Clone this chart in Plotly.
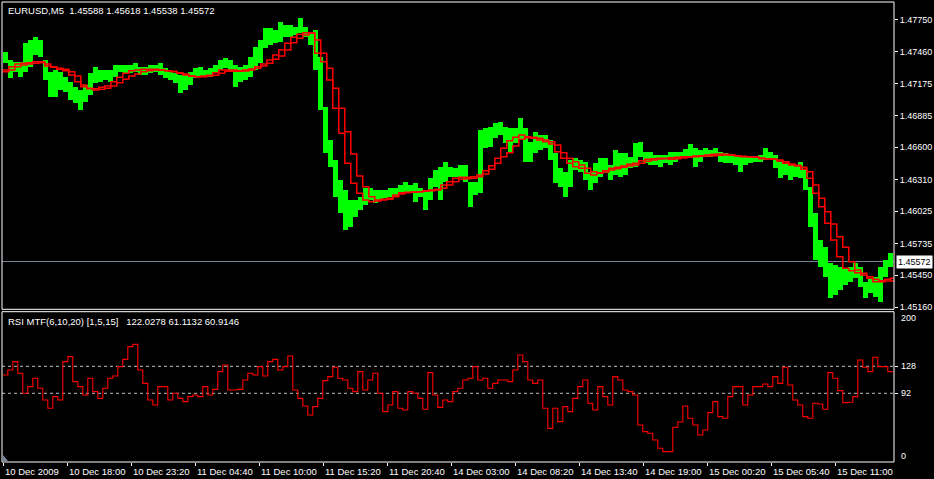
import numpy as np
import plotly.graph_objects as go

# ---------------- data ----------------
tick_labels = ["10 Dec 2009", "10 Dec 18:00", "10 Dec 23:20", "11 Dec 04:40", "11 Dec 10:00",
               "11 Dec 15:20", "11 Dec 20:40", "14 Dec 03:00", "14 Dec 08:20", "14 Dec 13:40",
               "14 Dec 19:00", "15 Dec 00:20", "15 Dec 05:40", "15 Dec 11:00"]

# EURUSD M5, high/low per group of 5 bars
highs = [1.47458, 1.47386, 1.47368, 1.47368, 1.47539, 1.47566, 1.47593, 1.47566, 1.47386, 1.47278,
         1.47296, 1.47278, 1.47233, 1.47188, 1.47143, 1.47116, 1.47161, 1.47269, 1.47323, 1.47296,
         1.47296, 1.47296, 1.47341, 1.47341, 1.47341, 1.47341, 1.47359, 1.47323, 1.47323, 1.47341,
         1.47341, 1.47359, 1.47314, 1.47278, 1.47269, 1.47251, 1.47251, 1.47278, 1.47314, 1.47323,
         1.47296, 1.47314, 1.47341, 1.47386, 1.47404, 1.47386, 1.47341, 1.47323, 1.47341, 1.47413,
         1.47503, 1.47566, 1.47674, 1.47674, 1.47656, 1.47728, 1.47701, 1.47701, 1.47683, 1.47764,
         1.47683, 1.47638, 1.47656, 1.47413, 1.46963, 1.46666, 1.46486, 1.46306, 1.46216, 1.46126,
         1.46126, 1.46153, 1.46234, 1.46234, 1.46216, 1.46216, 1.46216, 1.46234, 1.46234, 1.46261,
         1.46288, 1.46261, 1.46279, 1.46234, 1.46216, 1.46324, 1.46396, 1.46423, 1.46468, 1.46423,
         1.46414, 1.46441, 1.46441, 1.46288, 1.46288, 1.46756, 1.46774, 1.46783, 1.46819, 1.46828,
         1.46783, 1.46774, 1.46774, 1.46864, 1.46774, 1.46648, 1.46738, 1.46711, 1.46711, 1.46666,
         1.46549, 1.46414, 1.46378, 1.46486, 1.46504, 1.46486, 1.46468, 1.46378, 1.46459, 1.46504,
         1.46504, 1.46441, 1.46576, 1.46549, 1.46549, 1.46513, 1.46639, 1.46648, 1.46558, 1.46558,
         1.46531, 1.46531, 1.46531, 1.46558, 1.46558, 1.46558, 1.46585, 1.46630, 1.46594, 1.46576,
         1.46594, 1.46576, 1.46594, 1.46558, 1.46549, 1.46540, 1.46531, 1.46513, 1.46513, 1.46513,
         1.46513, 1.46531, 1.46594, 1.46558, 1.46531, 1.46468, 1.46459, 1.46441, 1.46441, 1.46468,
         1.46396, 1.46243, 1.46009, 1.45766, 1.45703, 1.45559, 1.45541, 1.45523, 1.45514, 1.45523,
         1.45559, 1.45523, 1.45388, 1.45424, 1.45433, 1.45523, 1.45586, 1.45649]
lows = [1.47359, 1.47224, 1.47278, 1.47233, 1.47278, 1.47323, 1.47431, 1.47413, 1.47206, 1.47053,
        1.47053, 1.47116, 1.47098, 1.47026, 1.46999, 1.46936, 1.47008, 1.47071, 1.47179, 1.47188,
        1.47206, 1.47188, 1.47233, 1.47278, 1.47269, 1.47269, 1.47278, 1.47251, 1.47251, 1.47269,
        1.47278, 1.47251, 1.47224, 1.47206, 1.47179, 1.47089, 1.47116, 1.47161, 1.47224, 1.47233,
        1.47233, 1.47233, 1.47269, 1.47296, 1.47314, 1.47278, 1.47143, 1.47188, 1.47206, 1.47233,
        1.47296, 1.47359, 1.47494, 1.47521, 1.47539, 1.47548, 1.47593, 1.47593, 1.47611, 1.47629,
        1.47593, 1.47521, 1.47296, 1.46936, 1.46549, 1.46423, 1.46153, 1.46009, 1.45856, 1.45883,
        1.45973, 1.46036, 1.46081, 1.46126, 1.46099, 1.46126, 1.46144, 1.46153, 1.46153, 1.46189,
        1.46198, 1.46189, 1.46108, 1.46153, 1.46036, 1.46126, 1.46243, 1.46126, 1.46288, 1.46333,
        1.46333, 1.46333, 1.46288, 1.46063, 1.46171, 1.46189, 1.46594, 1.46603, 1.46684, 1.46711,
        1.46639, 1.46558, 1.46639, 1.46666, 1.46468, 1.46468, 1.46549, 1.46576, 1.46594, 1.46486,
        1.46279, 1.46243, 1.46153, 1.46243, 1.46396, 1.46378, 1.46306, 1.46216, 1.46279, 1.46333,
        1.46369, 1.46306, 1.46351, 1.46333, 1.46351, 1.46414, 1.46423, 1.46513, 1.46459, 1.46441,
        1.46441, 1.46423, 1.46459, 1.46441, 1.46468, 1.46504, 1.46513, 1.46513, 1.46423, 1.46468,
        1.46513, 1.46513, 1.46522, 1.46468, 1.46459, 1.46459, 1.46441, 1.46378, 1.46441, 1.46459,
        1.46468, 1.46468, 1.46486, 1.46504, 1.46414, 1.46324, 1.46351, 1.46306, 1.46333, 1.46324,
        1.46216, 1.45883, 1.45586, 1.45523, 1.45433, 1.45244, 1.45271, 1.45316, 1.45361, 1.45388,
        1.45424, 1.45343, 1.45244, 1.45289, 1.45253, 1.45208, 1.45433, 1.45523]

# two multi-timeframe moving averages, one value per 30-minute step
ma_fast = [1.47296, 1.47326, 1.47350, 1.47356, 1.47362, 1.47371, 1.47371, 1.47332, 1.47320, 1.47302,
           1.47290, 1.47251, 1.47191, 1.47146, 1.47128, 1.47128, 1.47140, 1.47152, 1.47191, 1.47230,
           1.47266, 1.47290, 1.47296, 1.47302, 1.47302, 1.47302, 1.47296, 1.47290, 1.47281, 1.47266,
           1.47251, 1.47242, 1.47236, 1.47242, 1.47248, 1.47272, 1.47296,
           1.47296, 1.47296, 1.47290, 1.47296, 1.47305, 1.47326, 1.47350, 1.47386, 1.47431, 1.47476,
           1.47536, 1.47590, 1.47617, 1.47632, 1.47632, 1.47446, 1.47371, 1.47206, 1.46951, 1.46726,
           1.46456, 1.46276, 1.46186, 1.46126, 1.46111, 1.46117, 1.46132, 1.46141, 1.46171, 1.46192,
           1.46195, 1.46195, 1.46201, 1.46210, 1.46216, 1.46222, 1.46261,
           1.46291, 1.46321, 1.46330, 1.46330, 1.46336, 1.46351, 1.46390, 1.46435, 1.46501, 1.46591,
           1.46660, 1.46690, 1.46711, 1.46696, 1.46681, 1.46666, 1.46651, 1.46630, 1.46561, 1.46501,
           1.46456, 1.46426, 1.46411, 1.46366, 1.46351, 1.46366, 1.46390, 1.46411, 1.46420, 1.46432,
           1.46447, 1.46456, 1.46480, 1.46492, 1.46498, 1.46501, 1.46501,
           1.46507, 1.46510, 1.46516, 1.46516, 1.46522, 1.46525, 1.46531, 1.46537, 1.46540, 1.46537,
           1.46531, 1.46522, 1.46516, 1.46516, 1.46510, 1.46498, 1.46495, 1.46492, 1.46477, 1.46456,
           1.46441, 1.46432, 1.46402, 1.46321, 1.46186, 1.46066, 1.45916, 1.45766, 1.45616, 1.45511,
           1.45490, 1.45472, 1.45451, 1.45421, 1.45391, 1.45391, 1.45412, 1.45421]
ma_slow = [1.47281, 1.47296, 1.47326, 1.47341, 1.47350, 1.47356, 1.47362, 1.47350, 1.47326, 1.47311,
           1.47302, 1.47281, 1.47242, 1.47161, 1.47131, 1.47116, 1.47122, 1.47131, 1.47152, 1.47182,
           1.47212, 1.47242, 1.47260, 1.47281, 1.47290, 1.47296, 1.47296, 1.47290, 1.47284, 1.47272,
           1.47260, 1.47242, 1.47236, 1.47236, 1.47242, 1.47248, 1.47266,
           1.47284, 1.47284, 1.47284, 1.47287, 1.47296, 1.47311, 1.47332, 1.47356, 1.47392, 1.47422,
           1.47476, 1.47542, 1.47581, 1.47611, 1.47626, 1.47566, 1.47446, 1.47311, 1.47131, 1.46951,
           1.46741, 1.46540, 1.46342, 1.46246, 1.46156, 1.46126, 1.46126, 1.46132, 1.46156, 1.46180,
           1.46192, 1.46198, 1.46201, 1.46204, 1.46210, 1.46216, 1.46231,
           1.46261, 1.46291, 1.46312, 1.46318, 1.46321, 1.46336, 1.46360, 1.46402, 1.46456, 1.46516,
           1.46552, 1.46612, 1.46672, 1.46687, 1.46690, 1.46681, 1.46666, 1.46651, 1.46621, 1.46552,
           1.46501, 1.46471, 1.46441, 1.46411, 1.46381, 1.46372, 1.46378, 1.46396, 1.46408, 1.46420,
           1.46432, 1.46441, 1.46456, 1.46474, 1.46486, 1.46495, 1.46498,
           1.46492, 1.46498, 1.46504, 1.46510, 1.46516, 1.46519, 1.46522, 1.46525, 1.46528, 1.46531,
           1.46528, 1.46525, 1.46519, 1.46516, 1.46513, 1.46504, 1.46498, 1.46495, 1.46486, 1.46471,
           1.46450, 1.46438, 1.46420, 1.46381, 1.46261, 1.46141, 1.46021, 1.45910, 1.45796, 1.45700,
           1.45571, 1.45496, 1.45466, 1.45436, 1.45412, 1.45400, 1.45397, 1.45397]

# RSI MTF (0..200 scale), one value per group of 5 bars
rsi = [116.4, 123.1, 134.2, 118.7, 92.0, 100.9, 112.0, 98.7, 83.1, 72.0,
       87.6, 83.1, 134.2, 140.9, 107.6, 100.9, 89.8, 112.0, 94.2, 85.3,
       98.7, 112.0, 115.1, 127.6, 137.3, 154.2, 157.3, 123.1, 105.3, 83.1,
       76.4, 100.9, 100.9, 83.1, 92.0, 85.3, 80.9, 87.6, 89.8, 87.6,
       100.9, 89.8, 97.3, 120.9, 129.8, 96.4, 96.4, 97.3, 109.8, 118.7,
       116.4, 127.6, 115.1, 134.2, 137.3, 123.1, 127.6, 141.8, 96.4, 85.3,
       75.1, 63.1, 74.2, 85.3, 108.9, 114.2, 126.7, 112.0, 109.8, 98.7,
       94.2, 120.9, 96.4, 109.8, 118.7, 92.0, 67.6, 76.4, 94.2, 72.0,
       69.8, 94.2, 92.0, 85.3, 70.7, 119.6, 89.8, 73.3, 83.1, 80.9,
       94.2, 98.7, 109.8, 112.0, 127.6, 109.8, 112.0, 98.7, 105.3, 109.8,
       109.8, 107.6, 123.1, 143.1, 134.2, 109.8, 105.3, 109.8, 72.0, 45.3,
       72.0, 54.2, 74.2, 67.6, 85.3, 100.9, 109.8, 78.7, 69.8, 100.9,
       87.6, 76.4, 114.2, 109.8, 96.4, 94.2, 89.8, 49.8, 40.9, 38.7,
       29.8, 18.7, 14.2, 14.2, 46.7, 53.8, 75.1, 58.7, 49.8, 36.4,
       43.1, 66.2, 80.9, 60.9, 58.7, 87.6, 100.9, 100.9, 76.4, 89.8,
       100.9, 100.9, 104.4, 100.9, 114.2, 105.3, 126.7, 103.1, 83.1, 76.4,
       60.9, 58.7, 78.7, 77.8, 70.7, 119.6, 112.0, 95.6, 79.6, 80.0,
       87.6, 136.4, 126.7, 120.9, 140.0, 127.6, 127.6, 120.9]

price_ticks = [1.45160, 1.45450, 1.45735, 1.46025, 1.46310, 1.46600, 1.46885, 1.47175, 1.47460, 1.47750]
rsi_levels = [92, 128]
rsi_ticks = [0, 92, 128, 200]
last_price = 1.45572
title_text = "EURUSD,M5\u00a0\u00a01.45588 1.45618 1.45538 1.45572"
rsi_text = "RSI MTF(6,10,20) [1,5,15]\u00a0\u00a0\u00a0122.0278 61.1132 60.9146"

SEG = 5          # bars per price/RSI group
MA_STEP = 6      # bars per moving-average step
TICK_EVERY = 64  # bars between time labels

# ---------------- geometry ----------------
W, H = 934, 479
ML, MR, MT, MB = 2, 40, 2, 17
PW, PH = W - ML - MR, H - MT - MB
def fx(px):  # pixel x -> paper
    return (px - ML) / PW
def fy(py):  # pixel y -> paper
    return (H - MB - py) / PH

MAIN_DOM = [fy(309.3), 1.0]
RSI_DOM = [0.0, fy(311.7)]
XR = [-1.3, 890.7]
FONT = "Liberation Sans, Arial, sans-serif"
TXT = 9.5
AXT = 9

highs_a = np.array(highs)
lows_a = np.array(lows)
seg_x = np.arange(len(highs)) * SEG + (SEG - 1) / 2

fig = go.Figure()
fig.add_trace(go.Bar(x=seg_x, base=lows_a, y=highs_a - lows_a, width=SEG,
                     marker=dict(color="#00FF00", line=dict(width=0)),
                     xaxis="x", yaxis="y", hoverinfo="skip"))
for ma in (ma_slow, ma_fast):
    mx = np.arange(len(ma) + 1) * MA_STEP - 0.5
    fig.add_trace(go.Scatter(x=mx, y=list(ma) + [ma[-1]], mode="lines", line_shape="hv",
                             line=dict(color="#FF0000", width=1.5), xaxis="x", yaxis="y",
                             hoverinfo="skip"))
rx = np.arange(len(rsi) + 1) * SEG - 0.5
fig.add_trace(go.Scatter(x=rx, y=list(rsi) + [rsi[-1]], mode="lines", line_shape="hv",
                         line=dict(color="#FF0000", width=1.1), xaxis="x2", yaxis="y2",
                         hoverinfo="skip"))

shapes = [
    dict(type="line", xref="paper", yref="y", x0=0, x1=1, y0=last_price, y1=last_price,
         line=dict(color="#778899", width=1), layer="below"),
    dict(type="rect", xref="paper", yref="paper", x0=0, x1=1, y0=MAIN_DOM[0], y1=MAIN_DOM[1],
         line=dict(color="white", width=1)),
    dict(type="rect", xref="paper", yref="paper", x0=0, x1=1, y0=RSI_DOM[0], y1=RSI_DOM[1],
         line=dict(color="white", width=1)),
    # chart-shift marker in the bottom-left corner
    dict(type="path", xref="paper", yref="paper",
         path=f"M {fx(3)} {fy(455)} L {fx(8)} {fy(461)} L {fx(3)} {fy(461)} Z",
         fillcolor="#778899", line=dict(width=0)),
]
for lv in rsi_levels:
    shapes.append(dict(type="line", xref="paper", yref="y2", x0=0, x1=1, y0=lv, y1=lv,
                       line=dict(color="#C0C0C0", width=1, dash="3px,3px"), layer="below"))

tickvals_x = [i * TICK_EVERY for i in range(len(tick_labels))]
ann = [
    dict(text=title_text, xref="paper", yref="paper", x=fx(6), y=fy(10), xanchor="left",
         yanchor="middle", showarrow=False, font=dict(color="white", size=TXT, family=FONT)),
    dict(text=rsi_text, xref="paper", yref="paper", x=fx(6), y=fy(321), xanchor="left",
         yanchor="middle", showarrow=False, font=dict(color="white", size=TXT, family=FONT)),
    dict(text=f"{last_price:.5f}", xref="paper", yref="y", x=fx(896), y=last_price,
         xanchor="left", yanchor="middle", showarrow=False, bgcolor="white", borderpad=1,
         font=dict(color="black", size=AXT, family=FONT)),
]
for tv, lab in zip(tickvals_x, tick_labels):
    ann.append(dict(text=lab, xref="x2", yref="paper", x=tv - 0.5, y=fy(471), xanchor="left",
                    yanchor="middle", showarrow=False,
                    font=dict(color="white", size=TXT, family=FONT)))
rsi_label_py = {200: 318, 128: 366, 92: 393, 0: 456}
for v in rsi_ticks:
    ann.append(dict(text=str(v), xref="paper", yref="paper", x=fx(899), y=fy(rsi_label_py[v]),
                    xanchor="left", yanchor="middle", showarrow=False,
                    font=dict(color="white", size=AXT, family=FONT)))

fig.update_layout(
    width=W, height=H, margin=dict(l=ML, r=MR, t=MT, b=MB, autoexpand=False),
    paper_bgcolor="black", plot_bgcolor="black", showlegend=False,
    barmode="overlay", bargap=0,
    shapes=shapes, annotations=ann,
    xaxis=dict(domain=[0, 1], anchor="y", range=XR, matches="x2", showticklabels=False,
               showgrid=False, zeroline=False, showline=False, ticks=""),
    xaxis2=dict(domain=[0, 1], anchor="y2", range=XR, tickvals=tickvals_x, ticks="outside",
                ticklen=3, tickcolor="white", showticklabels=False, showgrid=False,
                zeroline=False, showline=False),
    yaxis=dict(domain=MAIN_DOM, anchor="x", range=[1.45142, 1.47908], side="right",
               tickvals=price_ticks, ticktext=[f"{v:.5f}" for v in price_ticks],
               ticks="outside", ticklen=3, tickcolor="white",
               tickfont=dict(color="white", size=AXT, family=FONT),
               showgrid=False, zeroline=False, showline=False, automargin=False),
    yaxis2=dict(domain=RSI_DOM, anchor="x2", range=[0.4, 200.8], side="right",
                tickvals=rsi_levels, ticks="outside", ticklen=3, tickcolor="white",
                showticklabels=False, showgrid=False, zeroline=False, showline=False),
)

page_css = ("document.documentElement.style.margin='0';document.body.style.margin='0';"
            "document.body.style.padding='0';document.body.style.overflow='hidden';"
            "document.body.style.background='black';")
fig.write_html("out.html", config={"displayModeBar": False}, post_script=page_css)
